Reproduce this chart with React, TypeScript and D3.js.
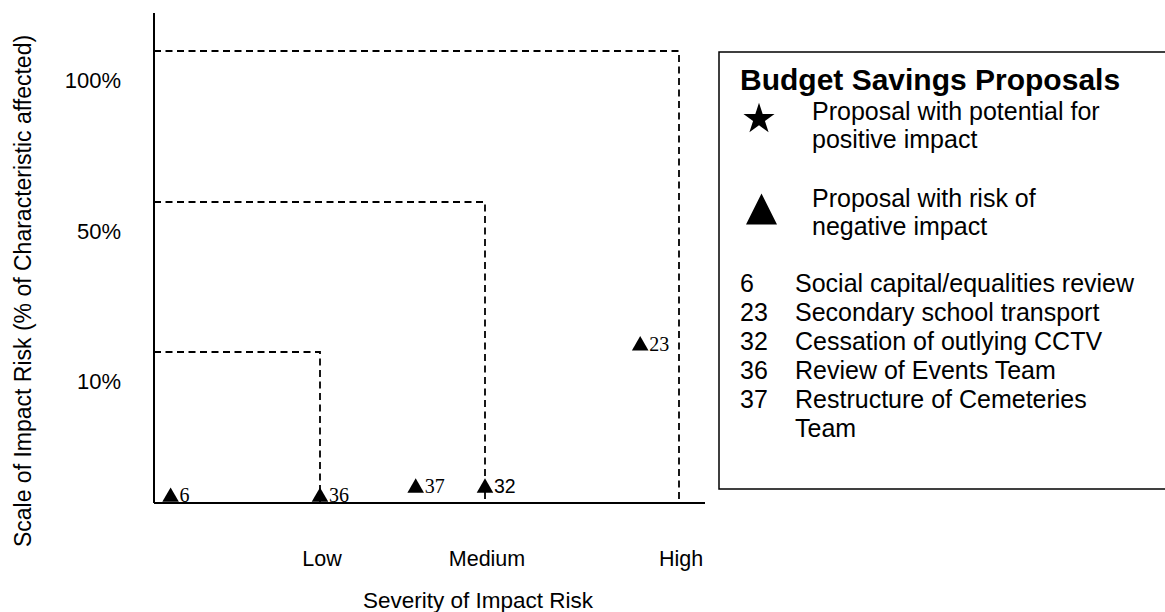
import React from "react";
import * as d3 from "d3";

// ---- data ----
const severityTicks = [1, 2, 3];
const severityLabels = ["Low", "Medium", "High"];
const scaleTicks = [10, 50, 100];
const scaleLabels = ["10%", "50%", "100%"];

// threshold boxes: severity level -> scale level
const boxSeverity = [1, 2, 3];
const boxScale = [10, 50, 100];

const proposalIds = ["6", "36", "37", "32", "23"];
const proposalSeverity = [0.1, 1.0, 1.58, 2.0, 2.8];
const proposalScale = [0.4, 0.4, 1.0, 1.0, 11.7];
const proposalLabelSans = [false, false, false, true, false];

const legendTitle = "Budget Savings Proposals";
const legendSymbolKinds = ["star", "triangle"];
const legendSymbolText = [
  ["Proposal with potential for", "positive impact"],
  ["Proposal with risk of", "negative impact"],
];
const listIds = ["6", "23", "32", "36", "37"];
const listNames = [
  ["Social capital/equalities review"],
  ["Secondary school transport"],
  ["Cessation of outlying CCTV"],
  ["Review of Events Team"],
  ["Restructure of Cemeteries", "Team"],
];

const W = 1165;
const H = 612;
const SANS = "Arial, 'Liberation Sans', Helvetica, sans-serif";
const SERIF = "'Times New Roman', 'Liberation Serif', serif";

// isoceles triangle whose height equals its base width
const tallTriangle = {
  draw(ctx: any, size: number) {
    const s = Math.sqrt(size);
    ctx.moveTo(0, -s / 2);
    ctx.lineTo(s / 2, s / 2);
    ctx.lineTo(-s / 2, s / 2);
    ctx.closePath();
  },
};

export default function App() {
  const x = d3.scaleLinear().domain([0, 1, 2, 3, 3.13]).range([154, 320, 485, 679, 705]);
  const y = d3.scaleLinear().domain([0, 10, 50, 100, 112.5]).range([503, 352, 202, 51, 13]);

  const tri = d3.symbol(d3.symbolTriangle, 119)();
  const bigTri = d3.symbol(tallTriangle as any, 961)();
  const star = d3.symbol(d3.symbolStar, 300)();

  const lx = 719, ly = 52, lh = 437;
  const listRows: { id: string; text: string; row: number }[] = [];
  let row = 0;
  listIds.forEach((id, i) => {
    listNames[i].forEach((t, j) => {
      listRows.push({ id: j === 0 ? id : "", text: t, row });
      row++;
    });
  });

  return (
    <svg width={W} height={H} style={{ position: "absolute", left: 0, top: 0, background: "#fff" }}>
      <rect width={W} height={H} fill="#fff" />
      {/* dashed threshold boxes */}
      {boxSeverity.map((s, i) => (
        <path
          key={"box" + i}
          d={`M${x(0)},${y(boxScale[i])}H${x(s)}V${y(0)}`}
          fill="none"
          stroke="#000"
          strokeWidth={1.8}
          strokeDasharray="7,4.5"
        />
      ))}
      {/* axes */}
      <line x1={x(0)} x2={x(0)} y1={y(112.5)} y2={y(0)} stroke="#000" strokeWidth={2} />
      <line x1={x(0)} x2={x(3.13)} y1={y(0)} y2={y(0)} stroke="#000" strokeWidth={2} />

      {scaleTicks.map((v, i) => (
        <text key={"yt" + i} x={121} y={y(v) + 37} textAnchor="end" fontFamily={SANS} fontSize={22}>
          {scaleLabels[i]}
        </text>
      ))}
      {severityTicks.map((v, i) => (
        <text key={"xt" + i} x={x(v) + 2} y={566} textAnchor="middle" fontFamily={SANS} fontSize={21.5}>
          {severityLabels[i]}
        </text>
      ))}
      <text x={478} y={608} textAnchor="middle" fontFamily={SANS} fontSize={22.5}>
        Severity of Impact Risk
      </text>
      <text
        transform={`translate(31,291) rotate(-90)`}
        textAnchor="middle"
        fontFamily={SANS}
        fontSize={23}
      >
        Scale of Impact Risk (% of Characteristic affected)
      </text>

      {/* points */}
      {proposalIds.map((id, i) => {
        const px = x(proposalSeverity[i]);
        const py = y(proposalScale[i]);
        return (
          <g key={"p" + i}>
            <path d={tri!} transform={`translate(${px},${py})`} fill="#000" />
            <text
              x={px + 9}
              y={py + 5}
              fontFamily={proposalLabelSans[i] ? SANS : SERIF}
              fontSize={proposalLabelSans[i] ? 19.5 : 20}
            >
              {id}
            </text>
          </g>
        );
      })}

      {/* legend */}
      <rect x={lx} y={ly} width={600} height={lh} fill="none" stroke="#000" strokeWidth={1.5} />
      <text x={740} y={90} fontFamily={SANS} fontWeight="bold" fontSize={30}>
        {legendTitle}
      </text>
      {legendSymbolKinds.map((k, i) => (
        <g key={"ls" + i}>
          <path
            d={(k === "star" ? star : bigTri)!}
            transform={`translate(${k === "star" ? 759 : 761.5},${k === "star" ? 119 : 209})`}
            fill="#000"
          />
          {legendSymbolText[i].map((t, j) => (
            <text key={j} x={812} y={120 + i * 87 + j * 28} fontFamily={SANS} fontSize={25}>
              {t}
            </text>
          ))}
        </g>
      ))}
      {listRows.map((r, i) => (
        <g key={"lr" + i}>
          {r.id && (
            <text x={740} y={292 + r.row * 29} fontFamily={SANS} fontSize={25}>
              {r.id}
            </text>
          )}
          <text x={795} y={292 + r.row * 29} fontFamily={SANS} fontSize={25}>
            {r.text}
          </text>
        </g>
      ))}
    </svg>
  );
}
